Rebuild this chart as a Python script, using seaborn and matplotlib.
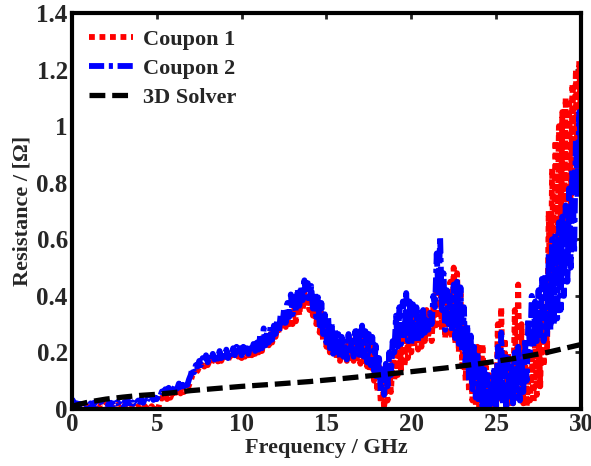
import numpy as np
import pandas as pd
import matplotlib
matplotlib.use("Agg")
import matplotlib.pyplot as plt
import seaborn as sns

# Coupon 2 (blue), sampled every 0.1 GHz from 0 to 30 GHz
coupon2 = [
    0.035, 0.025, 0.015, 0.02, 0.01, 0.018, 0.008, 0.015, 0.01, 0.02,
    0.012, 0.02, 0.01, 0.022, 0.015, 0.018, 0.012, 0.025, 0.015, 0.02,
    0.018, 0.025, 0.015, 0.022, 0.012, 0.02, 0.015, 0.025, 0.012, 0.02,
    0.015, 0.025, 0.018, 0.03, 0.02, 0.028, 0.018, 0.032, 0.022, 0.03,
    0.025, 0.035, 0.022, 0.038, 0.028, 0.04, 0.03, 0.045, 0.032, 0.04,
    0.035, 0.05, 0.045, 0.062, 0.055, 0.07, 0.06, 0.075, 0.065, 0.08,
    0.07, 0.085, 0.072, 0.09, 0.078, 0.095, 0.08, 0.098, 0.085, 0.105,
    0.12, 0.145, 0.13, 0.155, 0.15, 0.17, 0.155, 0.18, 0.165, 0.19,
    0.165, 0.19, 0.17, 0.195, 0.175, 0.2, 0.178, 0.205, 0.18, 0.205,
    0.185, 0.21, 0.18, 0.205, 0.185, 0.215, 0.19, 0.22, 0.195, 0.215,
    0.19, 0.22, 0.195, 0.215, 0.195, 0.225, 0.2, 0.23, 0.205, 0.235,
    0.21, 0.265, 0.215, 0.285, 0.225, 0.275, 0.235, 0.29, 0.245, 0.295,
    0.265, 0.315, 0.275, 0.335, 0.295, 0.355, 0.305, 0.375, 0.325, 0.405,
    0.335, 0.395, 0.345, 0.425, 0.365, 0.435, 0.385, 0.455, 0.395, 0.445,
    0.375, 0.435, 0.355, 0.415, 0.325, 0.395, 0.295, 0.375, 0.265, 0.335,
    0.235, 0.325, 0.215, 0.305, 0.195, 0.285, 0.185, 0.265, 0.175, 0.255,
    0.185, 0.245, 0.175, 0.265, 0.195, 0.255, 0.185, 0.275, 0.195, 0.285,
    0.175, 0.295, 0.185, 0.275, 0.165, 0.265, 0.155, 0.255, 0.135, 0.225,
    0.1, 0.18, 0.06, 0.14, 0.05, 0.16, 0.08, 0.2, 0.12, 0.24,
    0.2, 0.33, 0.22, 0.36, 0.23, 0.38, 0.25, 0.41, 0.24, 0.38,
    0.23, 0.37, 0.25, 0.36, 0.24, 0.34, 0.26, 0.35, 0.27, 0.33,
    0.28, 0.34, 0.3, 0.4, 0.36, 0.55, 0.4, 0.61, 0.35, 0.48,
    0.28, 0.42, 0.3, 0.4, 0.27, 0.44, 0.25, 0.45, 0.23, 0.43,
    0.2, 0.36, 0.16, 0.3, 0.1, 0.26, 0.07, 0.22, 0.04, 0.2,
    0.02, 0.16, 0.0, 0.14, 0.01, 0.12, 0.0, 0.1, 0.02, 0.15,
    0.01, 0.22, 0.03, 0.27, 0.02, 0.2, 0.0, 0.18, 0.03, 0.15,
    0.02, 0.2, 0.04, 0.22, 0.03, 0.18, 0.06, 0.25, 0.1, 0.32,
    0.2, 0.4, 0.22, 0.38, 0.24, 0.42, 0.25, 0.46, 0.24, 0.48,
    0.25, 0.55, 0.28, 0.6, 0.3, 0.62, 0.32, 0.66, 0.35, 0.68,
    0.4, 0.72, 0.45, 0.78, 0.5, 0.85, 0.55, 0.95, 0.75, 1.05,
    0.9,
]

# Coupon 1 (red), same 0.1 GHz sampling
coupon1 = [
    0.02, 0.01, 0.0, 0.008, 0.0, 0.01, 0.005, 0.012, 0.004, 0.01,
    0.005, 0.015, 0.008, 0.012, 0.005, 0.015, 0.01, 0.018, 0.008, 0.015,
    0.01, 0.018, 0.008, 0.015, 0.005, 0.012, 0.008, 0.015, 0.005, 0.012,
    0.008, 0.015, 0.005, 0.012, 0.003, 0.01, 0.005, 0.012, 0.003, 0.01,
    0.005, 0.012, 0.002, 0.01, 0.0, 0.008, 0.002, 0.01, 0.0, 0.006,
    0.0, 0.005, 0.03, 0.04, 0.03, 0.045, 0.035, 0.05, 0.04, 0.055,
    0.045, 0.06, 0.05, 0.065, 0.055, 0.07, 0.06, 0.075, 0.065, 0.085,
    0.1, 0.12, 0.115, 0.13, 0.135, 0.15, 0.145, 0.155, 0.15, 0.165,
    0.155, 0.17, 0.16, 0.175, 0.165, 0.18, 0.168, 0.182, 0.17, 0.185,
    0.175, 0.19, 0.172, 0.188, 0.178, 0.195, 0.18, 0.198, 0.185, 0.2,
    0.18, 0.2, 0.185, 0.198, 0.19, 0.205, 0.19, 0.21, 0.195, 0.215,
    0.2, 0.24, 0.205, 0.26, 0.215, 0.25, 0.225, 0.265, 0.235, 0.275,
    0.255, 0.29, 0.265, 0.31, 0.28, 0.33, 0.29, 0.35, 0.3, 0.36,
    0.3, 0.36, 0.31, 0.38, 0.33, 0.4, 0.35, 0.41, 0.36, 0.4,
    0.35, 0.4, 0.33, 0.38, 0.3, 0.36, 0.27, 0.34, 0.24, 0.3,
    0.22, 0.3, 0.2, 0.28, 0.19, 0.26, 0.18, 0.25, 0.17, 0.24,
    0.18, 0.23, 0.17, 0.24, 0.18, 0.23, 0.17, 0.25, 0.18, 0.25,
    0.16, 0.26, 0.17, 0.25, 0.15, 0.24, 0.13, 0.22, 0.1, 0.18,
    0.06, 0.15, 0.02, 0.1, 0.0, 0.12, 0.03, 0.14, 0.06, 0.18,
    0.1, 0.25, 0.12, 0.28, 0.14, 0.3, 0.15, 0.32, 0.18, 0.3,
    0.2, 0.33, 0.22, 0.34, 0.21, 0.32, 0.22, 0.36, 0.24, 0.35,
    0.25, 0.33, 0.24, 0.36, 0.28, 0.45, 0.3, 0.48, 0.28, 0.42,
    0.25, 0.38, 0.27, 0.45, 0.25, 0.5, 0.23, 0.48, 0.2, 0.42,
    0.15, 0.3, 0.1, 0.25, 0.06, 0.22, 0.03, 0.2, 0.01, 0.22,
    0.0, 0.12, 0.23, 0.05, 0.15, 0.02, 0.12, 0.0, 0.1, 0.01,
    0.0, 0.3, 0.02, 0.36, 0.03, 0.25, 0.0, 0.2, 0.01, 0.15,
    0.02, 0.35, 0.04, 0.44, 0.05, 0.3, 0.02, 0.18, 0.01, 0.12,
    0.03, 0.2, 0.02, 0.25, 0.05, 0.3, 0.08, 0.35, 0.15, 0.45,
    0.2, 0.7, 0.3, 0.85, 0.45, 0.95, 0.5, 1.0, 0.55, 1.05,
    0.6, 1.1, 0.65, 1.08, 0.7, 1.15, 0.8, 1.2, 0.85, 1.23,
    1.0,
]

# 3D solver (black dashed)
solver_freq = [0, 1, 2, 3, 4, 5, 6, 7, 8, 10, 12, 14, 16, 18, 20, 22, 24, 26, 28, 30]
solver_res = [0.01, 0.025, 0.035, 0.042, 0.048, 0.052, 0.058, 0.065, 0.07, 0.08,
              0.088, 0.097, 0.108, 0.12, 0.132, 0.145, 0.16, 0.178, 0.2, 0.228]

meas_freq = np.round(np.linspace(0, 30, len(coupon1)), 2)

df1 = pd.DataFrame({"f": meas_freq, "r": coupon1})
df2 = pd.DataFrame({"f": meas_freq, "r": coupon2})
df3 = pd.DataFrame({"f": solver_freq, "r": solver_res})

sns.set_style("white")
plt.rcParams["font.family"] = ["Liberation Serif", "DejaVu Serif"]
plt.rcParams["font.weight"] = "bold"

fig = plt.figure(figsize=(5.91, 4.66), dpi=100)
ax = fig.add_axes([0.1218, 0.1223, 0.8612, 0.8498])

sns.lineplot(data=df1, x="f", y="r", ax=ax, color="#ff0000", lw=4.2,
             linestyle=(0, (1.0, 0.8)), estimator=None, sort=False, label="Coupon 1")
sns.lineplot(data=df2, x="f", y="r", ax=ax, color="#0000ff", lw=4.2,
             linestyle=(0, (2.6, 0.8, 0.7, 0.8)), estimator=None, sort=False, label="Coupon 2")
sns.lineplot(data=df3, x="f", y="r", ax=ax, color="black", lw=3.8,
             linestyle=(0, (3.0, 1.3)), estimator=None, sort=False, label="3D Solver")

ax.set_xlim(0, 30)
ax.set_ylim(0, 1.4)
ax.set_xticks([0, 5, 10, 15, 20, 25, 30])
ax.set_yticks([0, 0.2, 0.4, 0.6, 0.8, 1.0, 1.2, 1.4])
ax.set_yticklabels(["0", "0.2", "0.4", "0.6", "0.8", "1", "1.2", "1.4"])
ax.tick_params(direction="in", length=4, width=2, labelsize=18, top=True, right=True, pad=3)
for lab in ax.get_xticklabels() + ax.get_yticklabels():
    lab.set_fontweight("bold")
for s in ax.spines.values():
    s.set_linewidth(3)
    s.set_color("black")

ax.set_xlabel("Frequency / GHz", fontsize=16, fontweight="bold", labelpad=1)
ax.set_ylabel("Resistance / [Ω]", fontsize=16, fontweight="bold", labelpad=3)

leg = ax.legend(loc="upper left", frameon=False, fontsize=16, handlelength=2.0,
                borderaxespad=0.35, labelspacing=0.38, handletextpad=0.45)
for t in leg.get_texts():
    t.set_fontweight("bold")

fig.savefig("out.png", dpi=100)
